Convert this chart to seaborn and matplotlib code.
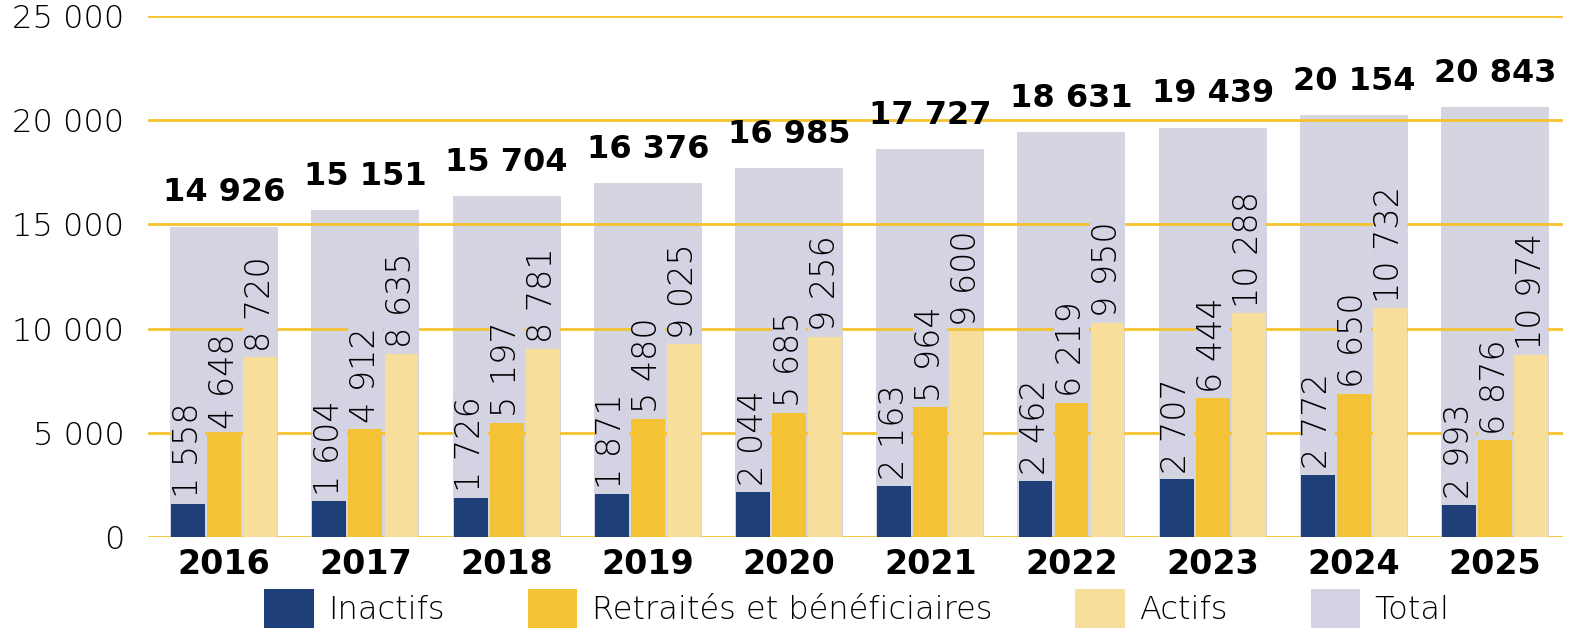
import pandas as pd
import matplotlib.pyplot as plt
from matplotlib.patches import Patch
import seaborn as sns

# ==========================================
# Data
# ==========================================

years = ["2016", "2017", "2018", "2019", "2020", "2021", "2022", "2023", "2024", "2025"]

# printed labels
inactifs = [1558, 1604, 1726, 1871, 2044, 2163, 2462, 2707, 2772, 2993]
retraites = [4648, 4912, 5197, 5480, 5685, 5964, 6219, 6444, 6650, 6876]
actifs = [8720, 8635, 8781, 9025, 9256, 9600, 9950, 10288, 10732, 10974]
totals = [14926, 15151, 15704, 16376, 16985, 17727, 18631, 19439, 20154, 20843]

# bar heights as they are drawn in the source picture
inactifs_h = [1604, 1726, 1871, 2044, 2163, 2462, 2707, 2772, 2993, 1558]
retraites_h = [4912, 5197, 5480, 5685, 5964, 6219, 6444, 6650, 6876, 4648]
actifs_h = [8635, 8781, 9025, 9256, 9600, 9870, 10288, 10732, 10974, 8720]
totals_h = [14900, 15700, 16376, 16985, 17727, 18631, 19439, 19650, 20240, 20640]

series = ["Inactifs", "Retraités et bénéficiaires", "Actifs"]

C_INACT = "#1E3F78"
C_RETR = "#F4C335"
C_ACT = "#F8DE9B"
C_TOT = "#D3D3E3"
C_GRID = "#F4C330"

FONT = "DejaVu Sans"

def fmt(v):
    return f"{v:,}".replace(",", " ")

# ==========================================
# Tables
# ==========================================

df_tot = pd.DataFrame({"Année": years, "Valeur": totals_h})

df_long = pd.DataFrame({
    "Année": years * 3,
    "Série": [s for s in series for _ in years],
    "Valeur": inactifs_h + retraites_h + actifs_h,
})

# ==========================================
# Plot
# ==========================================

sns.set_style("white")
plt.rcParams["font.family"] = [FONT]
plt.rcParams["text.color"] = "black"
plt.rcParams["xtick.color"] = "black"
plt.rcParams["ytick.color"] = "black"

fig = plt.figure(figsize=(15.69, 6.44), dpi=100)
ax = fig.add_axes([0.0943, 0.1661, 0.9018, 0.8090])

sns.barplot(
    data=df_tot, x="Année", y="Valeur",
    color=C_TOT, width=0.765, linewidth=0,
    errorbar=None, zorder=1, ax=ax
)

sns.barplot(
    data=df_long, x="Année", y="Valeur", hue="Série",
    hue_order=series, palette=[C_INACT, C_RETR, C_ACT],
    width=0.765, gap=0.06, linewidth=0, saturation=1,
    errorbar=None, legend=False, zorder=3, ax=ax
)

# totals on top
ax.bar_label(
    ax.containers[0], labels=[fmt(v) for v in totals],
    padding=13, fontsize=23, fontweight="bold", color="black", zorder=5
)

# vertical labels
for cont, vals in zip(ax.containers[1:], [inactifs, retraites, actifs]):
    ax.bar_label(
        cont, labels=[fmt(v) for v in vals],
        padding=4, rotation=90, fontsize=24, fontweight="light",
        color="black",
        bbox=dict(facecolor=C_TOT, edgecolor="none", pad=0.5),
        zorder=5
    )

# ==========================================
# Axes styling
# ==========================================

ax.set_ylim(0, 25000)
ax.set_xlim(-0.54, 9.48)
ax.set_yticks([0, 5000, 10000, 15000, 20000, 25000])
ax.set_yticklabels([fmt(t) for t in ax.get_yticks().astype(int)])

ax.set_axisbelow(False)
ax.yaxis.grid(True, color=C_GRID, linewidth=2)
ax.xaxis.grid(False)

for sp in ax.spines.values():
    sp.set_visible(False)

ax.set_xlabel("")
ax.set_ylabel("")
ax.tick_params(axis="y", length=0, pad=17, labelsize=23)
ax.tick_params(axis="x", length=0, pad=8, labelsize=24)
for lab in ax.get_xticklabels():
    lab.set_fontweight("bold")
for lab in ax.get_yticklabels():
    lab.set_fontweight("light")

# ==========================================
# Legend
# ==========================================

handles = [
    Patch(facecolor=C_INACT, edgecolor="none"),
    Patch(facecolor=C_RETR, edgecolor="none"),
    Patch(facecolor=C_ACT, edgecolor="none"),
    Patch(facecolor=C_TOT, edgecolor="none"),
]

fig.legend(
    handles, series + ["Total"],
    loc="lower center", bbox_to_anchor=(0.546, -0.01),
    ncol=4, frameon=False,
    prop={"size": 23, "weight": "light"},
    handlelength=1.55, handleheight=1.5,
    handletextpad=0.45, columnspacing=2.6, borderpad=0.2
)

fig.savefig("out.png", dpi=100)
